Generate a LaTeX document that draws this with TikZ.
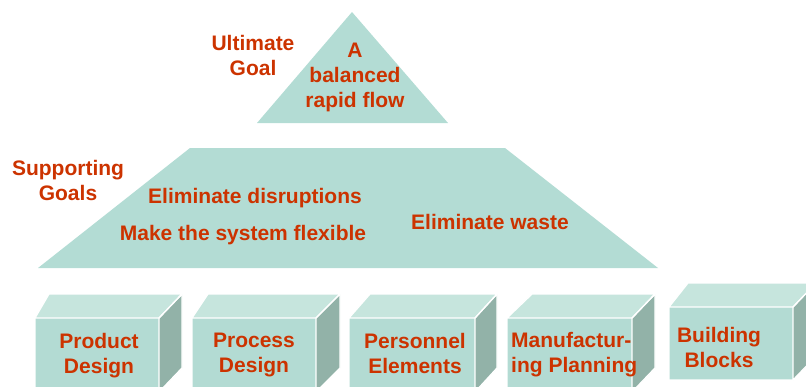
\documentclass[tikz,border=0pt]{standalone}
\usepackage{fontspec}
\setmainfont{Liberation Sans}
\definecolor{txtred}{HTML}{CC3300}
\definecolor{tealfill}{HTML}{B3DCD4}
\definecolor{frontc}{HTML}{B3DBD3}
\definecolor{topc}{HTML}{C6E5DD}
\definecolor{sidec}{HTML}{92B2A8}
\newcommand{\jitblock}[7]{%
  \fill[topc] (#1,#3) -- (#5,#7) -- (#6,#7) -- (#2,#3) -- cycle;
  \fill[sidec] (#2,#3) -- (#6,#7) -- (#6,{#4-(#3-#7)}) -- (#2,#4) -- cycle;
  \fill[frontc] (#1,#3) rectangle (#2,#4);
  \draw[blockedge] (#1,#4) -- (#1,#3) -- (#5,#7) -- (#6,#7) -- (#2,#3) -- (#1,#3);
  \draw[blockedge] (#2,#4) -- (#2,#3) -- (#6,#7) -- (#6,{#4-(#3-#7)}) -- (#2,#4) -- (#1,#4);
}
\begin{document}
\begin{tikzpicture}[x=1pt,y=-1pt,
  lbl/.style={font=\bfseries\fontsize{21}{25}\selectfont, text=txtred, inner sep=0pt, anchor=north, align=center},
  lbll/.style={lbl, align=left, anchor=north west},
  blockedge/.style={draw=white, line width=1.3pt, line join=round}]
\useasboundingbox (0,0) rectangle (806,386);
\clip (0,0) rectangle (806,386);
% triangle
\fill[tealfill] (352,12) -- (448,123) -- (257,123) -- cycle;
% trapezoid
\fill[tealfill] (190,148) -- (505,148) -- (658,268) -- (38,268) -- cycle;
% blocks
\jitblock{35}{159}{318}{392}{49}{182}{294}
\jitblock{192}{316}{318}{392}{208}{340}{294}
\jitblock{349}{475}{318}{392}{370}{497}{294}
\jitblock{507}{632}{318}{392}{532}{655}{294}
\jitblock{669}{793}{307}{380}{688}{816}{283}
% texts
\node[lbl] (flow) at (355,43) {A\\balanced\\rapid flow};
\node[lbl] (ult) at (253,35) {Ultimate\\Goal};
\node[lbl] (sup) at (68,160) {Supporting\\Goals};
\node[lbl] (dis) at (255,188) {Eliminate disruptions};
\node[lbl] (flex) at (243,225) {Make the system flexible};
\node[lbl] (waste) at (490,214) {Eliminate waste};
\node[lbl] (prod) at (99,333) {Product\\Design};
\node[lbl] (proc) at (254,333) {Process\\Design};
\node[lbl] (pers) at (415,333) {Personnel\\Elements};
\node[lbll] (manu) at (511,332) {Manufactur-\\ing Planning};
\node[lbl] (build) at (719,327) {Building\\Blocks};
\end{tikzpicture}
\end{document}
